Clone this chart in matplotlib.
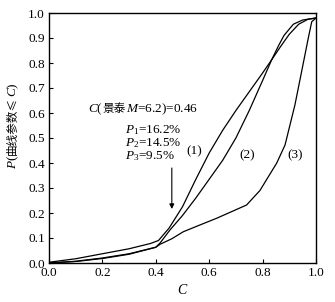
import matplotlib
matplotlib.use("Agg")
import matplotlib.pyplot as plt

plt.rcParams['mathtext.fontset'] = 'custom'
plt.rcParams['mathtext.rm'] = 'Liberation Serif'
plt.rcParams['mathtext.it'] = 'Liberation Serif:italic'
plt.rcParams['mathtext.bf'] = 'Liberation Serif:bold'
plt.rcParams['font.family'] = ['Liberation Serif', 'Noto Sans CJK SC']

# ---- data ----
c1 = [0.0, 0.1, 0.2, 0.3, 0.38, 0.41, 0.45, 0.50, 0.55, 0.60, 0.65, 0.70, 0.75, 0.80, 0.834, 0.87, 0.90, 0.935, 0.97, 1.0]
p1 = [0.003, 0.017, 0.037, 0.057, 0.078, 0.09, 0.14, 0.225, 0.335, 0.44, 0.53, 0.61, 0.685, 0.76, 0.813, 0.87, 0.915, 0.955, 0.975, 0.98]

c2 = [0.0, 0.1, 0.2, 0.3, 0.4, 0.416, 0.453, 0.50, 0.55, 0.60, 0.65, 0.70, 0.75, 0.80, 0.834, 0.86, 0.88, 0.915, 0.95, 1.0]
p2 = [0.0, 0.007, 0.02, 0.037, 0.063, 0.08, 0.132, 0.19, 0.26, 0.335, 0.41, 0.50, 0.61, 0.73, 0.813, 0.87, 0.91, 0.955, 0.972, 0.98]

c3 = [0.0, 0.1, 0.2, 0.3, 0.4, 0.416, 0.46, 0.503, 0.565, 0.628, 0.74, 0.79, 0.853, 0.884, 0.921, 0.946, 0.971, 0.984, 1.0]
p3 = [0.0, 0.006, 0.018, 0.035, 0.063, 0.075, 0.097, 0.125, 0.152, 0.179, 0.232, 0.29, 0.40, 0.472, 0.632, 0.765, 0.899, 0.965, 0.98]

curve_labels = ['(1)', '(2)', '(3)']
label_pos_c = [0.545, 0.744, 0.921]
label_pos_p = [0.445, 0.432, 0.432]

x_ticks = [0.0, 0.2, 0.4, 0.6, 0.8, 1.0]
y_ticks = [0.0, 0.1, 0.2, 0.3, 0.4, 0.5, 0.6, 0.7, 0.8, 0.9, 1.0]

c_mark = 0.46
p_values = ['16.2%', '14.5%', '9.5%']

SERIF = 'Liberation Serif'
CJK = 'Noto Sans CJK SC'

fig = plt.figure(figsize=(3.35, 3.02), dpi=100)
ax = fig.add_axes([49/335, 39/302, 267/335, 250/302])

for c, p in [(c1, p1), (c2, p2), (c3, p3)]:
    ax.plot(c, p, color='black', lw=0.9)

ax.set_xlim(0, 1.0)
ax.set_ylim(0, 1.0)
ax.set_xticks(x_ticks)
ax.set_yticks(y_ticks)
ax.set_xticklabels([f'{v:.1f}' for v in x_ticks], fontsize=9.5, family=SERIF)
ax.set_yticklabels([f'{v:.1f}' for v in y_ticks], fontsize=9.5, family=SERIF)
ax.tick_params(direction='in', length=3, width=0.8, top=False, right=False, pad=3)
for s in ax.spines.values():
    s.set_linewidth(1.0)

fs = 9.5


def hseq(x, y, pieces, size=fs):
    prev = None
    for s, kind in pieces:
        fam = CJK if kind == 'cjk' else SERIF
        sz = size * 0.88 if kind == 'cjk' else size
        if prev is None:
            prev = ax.text(x, y, s, ha='left', va='baseline', fontsize=sz, family=fam)
        else:
            prev = ax.annotate(s, xy=(1, y), xycoords=(prev, 'data'), ha='left',
                               va='baseline', fontsize=sz, family=fam)
    return prev


def vseq(x, y, pieces, size=fs):
    prev = None
    for s, kind in pieces:
        fam = CJK if kind == 'cjk' else SERIF
        sz = size * 0.88 if kind == 'cjk' else size
        if prev is None:
            prev = ax.text(x, y, s, ha='left', va='baseline', rotation=90,
                           rotation_mode='anchor', fontsize=sz, family=fam,
                           transform=ax.transAxes)
        else:
            prev = ax.annotate(s, xy=(x, 1), xycoords=('axes fraction', prev),
                               ha='left', va='baseline', rotation=90,
                               rotation_mode='anchor', fontsize=sz, family=fam)
    return prev


# main annotation
hseq(0.146, 0.604, [('$C$(', 's'), ('景泰', 'cjk'), ('$M$=6.2)=0.46', 's')])
p_text = '\n'.join(f'$P_{i+1}$={pv}' for i, pv in enumerate(p_values))
ax.text(0.285, 0.48, p_text, ha='left', va='center', fontsize=fs,
        family=SERIF, linespacing=0.95)

for lab, cx, py in zip(curve_labels, label_pos_c, label_pos_p):
    ax.text(cx, py, lab, ha='center', va='center', fontsize=fs, family=SERIF)

ax.annotate('', xy=(c_mark, 0.216), xytext=(c_mark, 0.38),
            arrowprops=dict(arrowstyle='-|>', color='black', lw=0.8,
                            mutation_scale=7, shrinkA=0, shrinkB=0))

# axis labels
ax.text(0.5, -0.108, '$C$', ha='center', va='center', fontsize=10,
        family=SERIF, transform=ax.transAxes)
vseq((16 - 49) / 267, 0.375, [('$P$(', 's'), ('曲线参数≤', 'cjk'), ('$C$)', 's')])

fig.savefig('out.png', dpi=100)
